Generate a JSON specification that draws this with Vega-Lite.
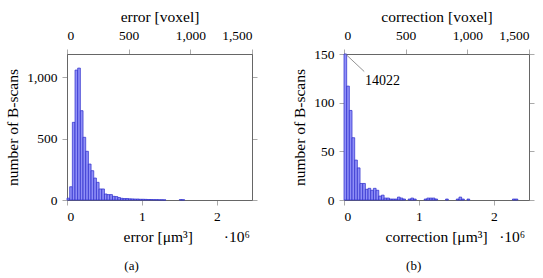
{
  "$schema": "https://vega.github.io/schema/vega-lite/v6.json",
  "padding": {"left": 5, "top": 8, "right": 0, "bottom": 0},
  "bounds": "flush",
  "spacing": 92,
  "config": {
    "font": "Liberation Serif",
    "view": {"stroke": "#666", "strokeWidth": 1},
    "axis": {"grid": false, "domainColor": "#666", "tickColor": "#aaa", "tickSize": 5, "labelFont": "Liberation Serif", "labelFontSize": 13.5, "labelColor": "#000", "titleFont": "Liberation Serif", "titleFontSize": 15.5, "titleFontWeight": "normal", "titleColor": "#000", "labelPadding": 4, "titlePadding": 5},
    "title": {"font": "Liberation Serif", "fontSize": 13, "fontWeight": "normal", "color": "#000"}
  },
  "hconcat": [
    {
      "width": 185, "height": 146,
      "title": {"text": "(a)", "orient": "bottom", "offset": 15, "frame": "bounds"},
      "data": {"values": [
        {"bin_start": 0, "bin_end": 0.0357, "count": 15},
        {"bin_start": 0.0357, "bin_end": 0.0714, "count": 108},
        {"bin_start": 0.0714, "bin_end": 0.1071, "count": 633},
        {"bin_start": 0.1071, "bin_end": 0.1428, "count": 1059},
        {"bin_start": 0.1428, "bin_end": 0.1785, "count": 1075},
        {"bin_start": 0.1785, "bin_end": 0.2142, "count": 728},
        {"bin_start": 0.2142, "bin_end": 0.2499, "count": 511},
        {"bin_start": 0.2499, "bin_end": 0.2856, "count": 397},
        {"bin_start": 0.2856, "bin_end": 0.3213, "count": 293},
        {"bin_start": 0.3213, "bin_end": 0.357, "count": 239},
        {"bin_start": 0.357, "bin_end": 0.3927, "count": 179},
        {"bin_start": 0.3927, "bin_end": 0.4284, "count": 144},
        {"bin_start": 0.4284, "bin_end": 0.4641, "count": 90},
        {"bin_start": 0.4641, "bin_end": 0.4998, "count": 90},
        {"bin_start": 0.4998, "bin_end": 0.5355, "count": 49},
        {"bin_start": 0.5355, "bin_end": 0.5712, "count": 44},
        {"bin_start": 0.5712, "bin_end": 0.6069, "count": 44},
        {"bin_start": 0.6069, "bin_end": 0.6426, "count": 30},
        {"bin_start": 0.6426, "bin_end": 0.6783, "count": 28},
        {"bin_start": 0.6783, "bin_end": 0.714, "count": 20},
        {"bin_start": 0.714, "bin_end": 0.7497, "count": 14},
        {"bin_start": 0.7497, "bin_end": 0.7854, "count": 12},
        {"bin_start": 0.7854, "bin_end": 0.8211, "count": 12},
        {"bin_start": 0.8211, "bin_end": 0.8568, "count": 10},
        {"bin_start": 0.8568, "bin_end": 0.8925, "count": 9},
        {"bin_start": 0.8925, "bin_end": 0.9282, "count": 8},
        {"bin_start": 0.9282, "bin_end": 0.9639, "count": 8},
        {"bin_start": 0.9639, "bin_end": 0.9996, "count": 6},
        {"bin_start": 0.9996, "bin_end": 1.0353, "count": 6},
        {"bin_start": 1.0353, "bin_end": 1.071, "count": 5},
        {"bin_start": 1.071, "bin_end": 1.1067, "count": 4},
        {"bin_start": 1.1067, "bin_end": 1.1424, "count": 4},
        {"bin_start": 1.1424, "bin_end": 1.1781, "count": 3},
        {"bin_start": 1.1781, "bin_end": 1.2138, "count": 3},
        {"bin_start": 1.2138, "bin_end": 1.2495, "count": 2},
        {"bin_start": 1.2495, "bin_end": 1.2852, "count": 2},
        {"bin_start": 1.2852, "bin_end": 1.3209, "count": 1},
        {"bin_start": 1.4994, "bin_end": 1.5351, "count": 3},
        {"bin_start": 1.5351, "bin_end": 1.5708, "count": 2}
      ]},
      "layer": [
        {
          "mark": {"type": "rect", "fill": "#8f8ff7", "stroke": "#2a2acc", "strokeWidth": 0.7},
          "encoding": {
            "x": {"field": "bin_start", "type": "quantitative", "scale": {"domain": [0, 2.47], "nice": false, "zero": false},
                  "axis": {"values": [0, 1, 2], "format": "d", "title": "error [μm³]\u00a0\u00a0\u00a0\u00a0\u00a0\u00a0\u00a0\u00a0·10⁶", "titleAlign": "left", "titleAnchor": "start", "titleX": 56, "titlePadding": 7}},
            "x2": {"field": "bin_end"},
            "y": {"field": "count", "type": "quantitative", "scale": {"domain": [0, 1190], "nice": false},
                  "axis": {"values": [0, 500, 1000], "format": ",d", "labelPadding": 5, "title": "number of B-scans", "titlePadding": 6}},
            "y2": {"datum": 0}
          }
        },
        {
          "data": {"values": [{}]},
          "mark": {"type": "point", "opacity": 0},
          "encoding": {
            "x": {"datum": 0, "type": "quantitative", "scale": {"domain": [0, 1500], "nice": false},
                  "axis": {"orient": "top", "values": [0, 500, 1000, 1500], "format": ",d", "labelPadding": 7, "title": "error [voxel]", "titlePadding": 4}},
            "y": {"datum": 0, "type": "quantitative", "scale": {"domain": [0, 1190], "nice": false},
                  "axis": {"orient": "right", "values": [0, 500, 1000], "labels": false, "title": null}}
          }
        }
      ],
      "resolve": {"scale": {"x": "independent", "y": "independent"}}
    },
    {
      "width": 185, "height": 146,
      "title": {"text": "(b)", "orient": "bottom", "offset": 15, "frame": "bounds"},
      "data": {"values": [
        {"bin_start": 0, "bin_end": 0.0357, "count": 14022},
        {"bin_start": 0.0357, "bin_end": 0.0714, "count": 117},
        {"bin_start": 0.0714, "bin_end": 0.1071, "count": 92},
        {"bin_start": 0.1071, "bin_end": 0.1428, "count": 64},
        {"bin_start": 0.1428, "bin_end": 0.1785, "count": 41},
        {"bin_start": 0.1785, "bin_end": 0.2142, "count": 33},
        {"bin_start": 0.2142, "bin_end": 0.2499, "count": 17},
        {"bin_start": 0.2499, "bin_end": 0.2856, "count": 17},
        {"bin_start": 0.2856, "bin_end": 0.3213, "count": 11},
        {"bin_start": 0.3213, "bin_end": 0.357, "count": 12},
        {"bin_start": 0.357, "bin_end": 0.3927, "count": 10},
        {"bin_start": 0.3927, "bin_end": 0.4284, "count": 12},
        {"bin_start": 0.4284, "bin_end": 0.4641, "count": 10},
        {"bin_start": 0.4641, "bin_end": 0.4998, "count": 4},
        {"bin_start": 0.4998, "bin_end": 0.5355, "count": 5},
        {"bin_start": 0.5355, "bin_end": 0.5712, "count": 2},
        {"bin_start": 0.5712, "bin_end": 0.6069, "count": 2},
        {"bin_start": 0.6069, "bin_end": 0.6426, "count": 1},
        {"bin_start": 0.6426, "bin_end": 0.6783, "count": 1},
        {"bin_start": 0.6783, "bin_end": 0.714, "count": 1},
        {"bin_start": 0.714, "bin_end": 0.7497, "count": 3},
        {"bin_start": 0.7497, "bin_end": 0.7854, "count": 2},
        {"bin_start": 0.7854, "bin_end": 0.8211, "count": 1},
        {"bin_start": 0.8568, "bin_end": 0.8925, "count": 1},
        {"bin_start": 0.8925, "bin_end": 0.9282, "count": 2},
        {"bin_start": 0.9282, "bin_end": 0.9639, "count": 1},
        {"bin_start": 1.071, "bin_end": 1.1067, "count": 1},
        {"bin_start": 1.1067, "bin_end": 1.1424, "count": 2},
        {"bin_start": 1.1424, "bin_end": 1.1781, "count": 2},
        {"bin_start": 1.1781, "bin_end": 1.2138, "count": 2},
        {"bin_start": 1.2138, "bin_end": 1.2495, "count": 1},
        {"bin_start": 1.3566, "bin_end": 1.3923, "count": 1},
        {"bin_start": 1.4994, "bin_end": 1.5351, "count": 1},
        {"bin_start": 1.5351, "bin_end": 1.5708, "count": 3},
        {"bin_start": 1.5708, "bin_end": 1.6065, "count": 1},
        {"bin_start": 1.6422, "bin_end": 1.6779, "count": 1},
        {"bin_start": 2.2491, "bin_end": 2.2848, "count": 1},
        {"bin_start": 2.2848, "bin_end": 2.3205, "count": 1}
      ]},
      "layer": [
        {
          "layer": [
            {
              "mark": {"type": "rect", "fill": "#8f8ff7", "stroke": "#2a2acc", "strokeWidth": 0.7},
              "encoding": {
                "x": {"field": "bin_start", "type": "quantitative", "scale": {"domain": [0, 2.47], "nice": false, "zero": false},
                      "axis": {"values": [0, 1, 2], "format": "d", "title": "correction [μm³]\u00a0\u00a0\u00a0·10⁶", "titleAlign": "left", "titleAnchor": "start", "titleX": 41, "titlePadding": 7}},
                "x2": {"field": "bin_end"},
                "y": {"field": "count", "type": "quantitative", "scale": {"domain": [0, 150], "nice": false, "clamp": true},
                      "axis": {"values": [0, 50, 100, 150], "format": ",d", "labelPadding": 5, "title": "number of B-scans", "titlePadding": 6}},
                "y2": {"datum": 0}
              }
            },
            {
              "transform": [{"filter": "datum.count > 150"}],
              "mark": {"type": "rule", "color": "#777", "strokeWidth": 0.8, "xOffset": 1.5},
              "encoding": {
                "x": {"field": "bin_start", "type": "quantitative", "scale": {"domain": [0, 2.47], "nice": false, "zero": false}},
                "y": {"field": "count", "type": "quantitative", "scale": {"domain": [0, 150], "nice": false, "clamp": true}},
                "x2": {"datum": 0.27},
                "y2": {"datum": 132}
              }
            },
            {
              "transform": [{"filter": "datum.count > 150"}],
              "mark": {"type": "text", "align": "left", "baseline": "middle", "dx": 21, "dy": 27, "fontSize": 14, "font": "Liberation Serif", "color": "#000"},
              "encoding": {
                "x": {"field": "bin_start", "type": "quantitative", "scale": {"domain": [0, 2.47], "nice": false, "zero": false}},
                "y": {"field": "count", "type": "quantitative", "scale": {"domain": [0, 150], "nice": false, "clamp": true}},
                "text": {"field": "count", "type": "quantitative", "format": "d"}
              }
            }
          ]
        },
        {
          "data": {"values": [{}]},
          "mark": {"type": "point", "opacity": 0},
          "encoding": {
            "x": {"datum": 0, "type": "quantitative", "scale": {"domain": [0, 1500], "nice": false},
                  "axis": {"orient": "top", "values": [0, 500, 1000, 1500], "format": ",d", "labelPadding": 7, "title": "correction [voxel]", "titlePadding": 4}},
            "y": {"datum": 0, "type": "quantitative", "scale": {"domain": [0, 150], "nice": false},
                  "axis": {"orient": "right", "values": [0, 50, 100, 150], "labels": false, "title": null}}
          }
        }
      ],
      "resolve": {"scale": {"x": "independent", "y": "independent"}}
    }
  ]
}
